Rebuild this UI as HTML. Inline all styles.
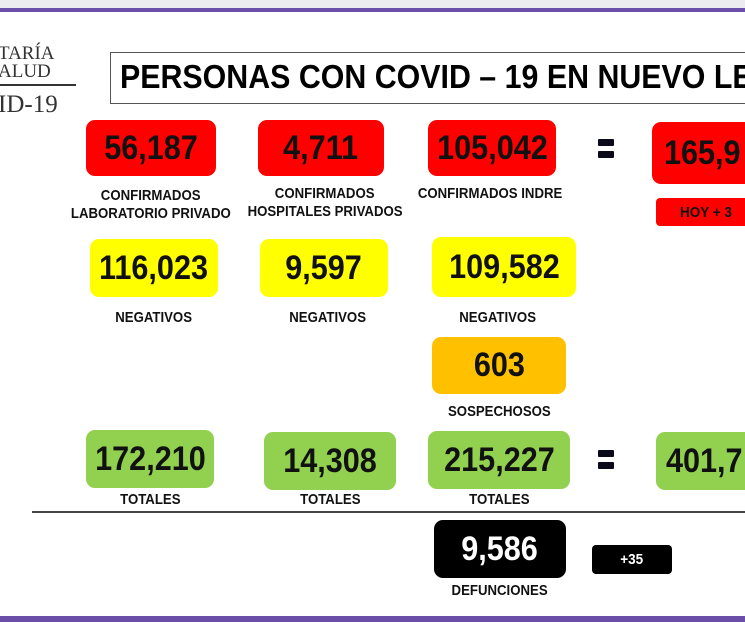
<!DOCTYPE html>
<html><head><meta charset="utf-8"><style>
html,body{margin:0;width:745px;height:622px;overflow:hidden;background:#fff;}
#wrap{position:relative;width:745px;height:622px;overflow:hidden;font-family:"Liberation Sans",sans-serif;}
.a{position:absolute}
.box{position:absolute;border-radius:9px;display:flex;align-items:center;justify-content:center;font-weight:bold;font-size:34px;color:#111;}
.box span{display:inline-block;transform:scaleX(.9);white-space:nowrap}
.red{background:#fe0000}.yel{background:#ffff00}.org{background:#ffc000}.grn{background:#92d050}.blk{background:#000;color:#fff}
.lbl{position:absolute;font-weight:bold;font-size:15px;text-align:center;color:#111;line-height:18px;}
.lbl span{display:inline-block;transform:scaleX(.88);white-space:nowrap}
.eq{position:absolute;width:16px;height:7px;background:#0a0a1a;border-radius:1px}
.edge{border-radius:9px 0 0 9px}
</style></head><body><div id="wrap">
<div class="a" style="left:0;top:0;width:745px;height:8px;background:#ececf0"></div>
<div class="a" style="left:0;top:8px;width:745px;height:4px;background:#6a4ea8"></div>
<div class="a" style="left:0;top:616px;width:745px;height:6px;background:#6a4ea8"></div>

<div class="a" style="left:-2px;top:45px;font-family:'Liberation Serif',serif;font-size:19px;line-height:18px;color:#333">TARÍA<br>ALUD</div>
<div class="a" style="left:0;top:84px;width:76px;height:2px;background:#333"></div>
<div class="a" style="left:-2px;top:91px;font-family:'Liberation Serif',serif;font-size:25px;color:#333">ID-19</div>

<div class="a" style="left:110px;top:52px;width:635px;height:52px;border:1px solid #555;border-right:none;box-sizing:border-box"></div>
<div class="a" style="left:120px;top:58px;width:625px;overflow:hidden;font-weight:bold;font-size:33px;white-space:nowrap;color:#000"><span style="display:inline-block;transform:scaleX(.92);transform-origin:left">PERSONAS CON COVID – 19 EN NUEVO LEÓN</span></div>

<div class="box red" style="left:86px;top:120px;width:130px;height:56px"><span>56,187</span></div>
<div class="box red" style="left:258px;top:120px;width:126px;height:56px"><span>4,711</span></div>
<div class="box red" style="left:428px;top:120px;width:128px;height:56px"><span>105,042</span></div>
<div class="eq" style="left:598px;top:139px"></div>
<div class="eq" style="left:598px;top:151px"></div>
<div class="box red edge" style="left:652px;top:122px;width:93px;height:62px;justify-content:flex-start;padding-left:12px;box-sizing:border-box;overflow:hidden"><span style="transform-origin:left">165,9</span></div>
<div class="box red edge" style="left:656px;top:198px;width:89px;height:28px;font-size:15px;border-radius:4px 0 0 4px;justify-content:flex-start;padding-left:24px;box-sizing:border-box;overflow:hidden"><span style="transform-origin:left">HOY + 3</span></div>
<div class="lbl" style="left:56px;top:187px;width:190px"><span>CONFIRMADOS</span><br><span>LABORATORIO PRIVADO</span></div>
<div class="lbl" style="left:230px;top:185px;width:190px"><span>CONFIRMADOS</span><br><span>HOSPITALES PRIVADOS</span></div>
<div class="lbl" style="left:395px;top:185px;width:190px"><span>CONFIRMADOS INDRE</span></div>

<div class="box yel" style="left:90px;top:239px;width:128px;height:58px"><span>116,023</span></div>
<div class="box yel" style="left:260px;top:239px;width:128px;height:58px"><span>9,597</span></div>
<div class="box yel" style="left:432px;top:237px;width:144px;height:60px"><span>109,582</span></div>
<div class="lbl" style="left:64px;top:309px;width:180px"><span>NEGATIVOS</span></div>
<div class="lbl" style="left:238px;top:309px;width:180px"><span>NEGATIVOS</span></div>
<div class="lbl" style="left:408px;top:309px;width:180px"><span>NEGATIVOS</span></div>

<div class="box org" style="left:432px;top:337px;width:134px;height:57px"><span>603</span></div>
<div class="lbl" style="left:409px;top:403px;width:180px"><span>SOSPECHOSOS</span></div>

<div class="box grn" style="left:86px;top:430px;width:128px;height:58px"><span>172,210</span></div>
<div class="box grn" style="left:264px;top:432px;width:132px;height:58px"><span>14,308</span></div>
<div class="box grn" style="left:428px;top:431px;width:142px;height:58px"><span>215,227</span></div>
<div class="eq" style="left:598px;top:450px"></div>
<div class="eq" style="left:598px;top:462px"></div>
<div class="box grn edge" style="left:656px;top:432px;width:89px;height:58px;justify-content:flex-start;padding-left:10px;box-sizing:border-box;overflow:hidden"><span style="transform-origin:left">401,7</span></div>
<div class="lbl" style="left:60px;top:491px;width:180px"><span>TOTALES</span></div>
<div class="lbl" style="left:240px;top:491px;width:180px"><span>TOTALES</span></div>
<div class="lbl" style="left:409px;top:491px;width:180px"><span>TOTALES</span></div>

<div class="a" style="left:32px;top:511px;width:713px;height:2px;background:#444"></div>

<div class="box blk" style="left:434px;top:520px;width:132px;height:58px"><span>9,586</span></div>
<div class="box blk" style="left:592px;top:545px;width:80px;height:29px;font-size:15px;border-radius:4px"><span>+35</span></div>
<div class="lbl" style="left:410px;top:582px;width:180px"><span>DEFUNCIONES</span></div>
</div></body></html>
